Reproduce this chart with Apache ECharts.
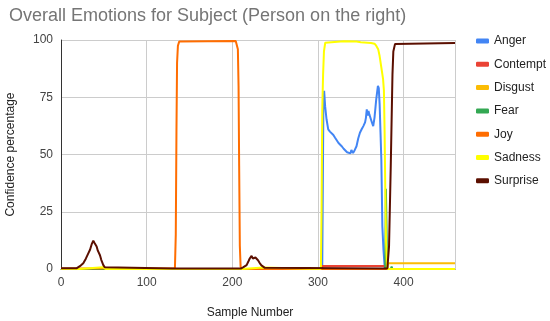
<!DOCTYPE html>
<html>
<head>
<meta charset="utf-8">
<script src="https://cdn.jsdelivr.net/npm/echarts@6/dist/echarts.min.js"></script>
<style>html,body{margin:0;padding:0;background:#fff}#c{width:550px;height:321px}</style>
</head>
<body>
<div id="c"></div>
<script>
const seriesNames = ['Anger','Contempt','Disgust','Fear','Joy','Sadness','Surprise'];
const xTicks = [0,100,200,300,400];
const yTicks = [0,25,50,75,100];

const anger = [[0,0],[305,0],[306.3,70],[307.2,77.8],[308.4,71],[310,65.4],[312,61],[314,60],[316,59.5],[318,58.5],[320,57.3],[322,56.5],[324,55],[326,54.5],[328,53.5],[330,52.5],[332,52],[334,51],[336,51.5],[338,50.5],[339,52],[341,50.7],[343,52],[345,53.6],[347,57],[349,59.5],[351,61],[353,62.4],[355,64],[356,66],[357,69.7],[358,67],[359,69],[360,67.5],[362,66.8],[363,64],[364.5,62.4],[366,66],[368,74],[370,80],[371,79],[372,72],[373,60],[374,47.8],[375.2,18.5],[376.5,8.3],[377.5,3],[378,0],[460,0]];
const contempt = [[0,0],[303,0],[304,1.3],[380,1.3],[381,0],[460,0]];
const disgust = [[0,0],[381,0],[382,2.5],[460,2.5]];
const fear = [[0,0],[378.5,0],[379.3,35],[380,20],[380.8,0],[385,0],[386,1],[387,0],[460,0]];
const joy = [[0,0.2],[133,0.3],[134,15],[134.8,60],[135.5,90],[136.5,97.5],[138,99.3],[140,99.6],[204,99.6],[205.5,99],[206.5,96],[207.3,80],[208,45],[208.8,10],[209.7,1],[211,0],[460,0]];
const sadness = [[0,0],[21,0],[23,0.8],[49,0.8],[52,0],[211,0],[213,0.7],[236,0.7],[238,0],[303.4,0],[304.2,25],[305,69],[306,85],[307,95],[308.5,98.8],[310,99.3],[330,99.5],[345,99.3],[350,99],[358,98.8],[362,98.7],[366,98.4],[368,97.5],[370.3,96],[372,93],[374,88],[376,83],[377,78],[377.8,60],[378.6,35],[379.5,12],[380.5,1],[381,0],[460,0]];
const surprise = [[0,0.3],[18,0.3],[20,0.8],[23,1.5],[26,2.5],[29,4.5],[32,6.9],[34,8.5],[36,11],[37.7,12.4],[39,11.5],[40,11],[41.6,9.8],[43,8],[45.5,6],[47,4],[49.4,1.7],[51,0.8],[53,0.3],[130,0.2],[210,0.2],[213,0.8],[216.7,1.7],[219,3.5],[220.5,4.7],[222.5,5.7],[224,4.6],[225.5,4.4],[227,5],[228.3,4.8],[230,3.8],[232,2.6],[234,1.6],[236,1],[238,0.5],[240,0.2],[381,0.2],[382,0.5],[383,10],[385,45],[387,85],[388,95],[390,98.3],[392,98.7],[460,98.7]];

const dataList = [anger, contempt, disgust, fear, joy, sadness, surprise];
const colors = ['#4285f4','#ea4335','#fbbc04','#34a853','#ff6d01','#ffff00','#5b0f00'];
const FONT = 'Arial, "Liberation Sans", sans-serif';

const chart = echarts.init(document.getElementById('c'), null, {renderer:'canvas'});
chart.setOption({
  animation: false,
  backgroundColor: '#fff',
  title: {
    text: 'Overall Emotions for Subject (Person on the right)',
    left: 4, top: 2,
    textStyle: {fontFamily: FONT, fontSize: 18, fontWeight: 'normal', color: '#757575'}
  },
  legend: {
    orient: 'vertical', left: 471, top: 29,
    itemWidth: 13, itemHeight: 5, itemGap: 9.3,
    icon: 'roundRect',
    data: seriesNames,
    textStyle: {fontFamily: FONT, fontSize: 12, color: '#222', height: 14, lineHeight: 14}
  },
  grid: {left: 61, right: 95, top: 40, bottom: 52, containLabel: false, outerBoundsMode: 'none'},
  graphic: [{
    type: 'text',
    style: {text: 'Sample Number', x: 250, y: 307, align: 'center', textAlign: 'center', fontFamily: FONT, fontSize: 12, fill: '#222'}
  }],
  xAxis: {
    type: 'value', min: 0, max: 460, interval: 100,
    axisLine: {show: true, lineStyle: {color: '#333', width: 1}},
    axisTick: {show: false},
    splitLine: {show: true, lineStyle: {color: '#cccccc'}},
    axisLabel: {fontFamily: FONT, fontSize: 12, color: '#444', margin: 8,
      formatter: v => (xTicks.indexOf(v) >= 0 ? String(v) : '')}
  },
  yAxis: {
    type: 'value', min: 0, max: 100, interval: 25,
    name: 'Confidence percentage', nameLocation: 'middle', nameGap: 44,
    nameTextStyle: {fontFamily: FONT, fontSize: 12, color: '#222'},
    axisLine: {show: true, lineStyle: {color: '#333', width: 1}},
    axisTick: {show: false},
    splitLine: {show: true, lineStyle: {color: '#cccccc'}},
    axisLabel: {fontFamily: FONT, fontSize: 12, color: '#444', margin: 8,
      formatter: v => (yTicks.indexOf(v) >= 0 ? String(v) : '')}
  },
  series: seriesNames.map((n, i) => ({
    name: n, type: 'line', data: dataList[i],
    showSymbol: false, symbol: 'none',
    lineStyle: {width: 2, color: colors[i]},
    itemStyle: {color: colors[i]},
    z: 2 + i
  }))
});
</script>
</body>
</html>
